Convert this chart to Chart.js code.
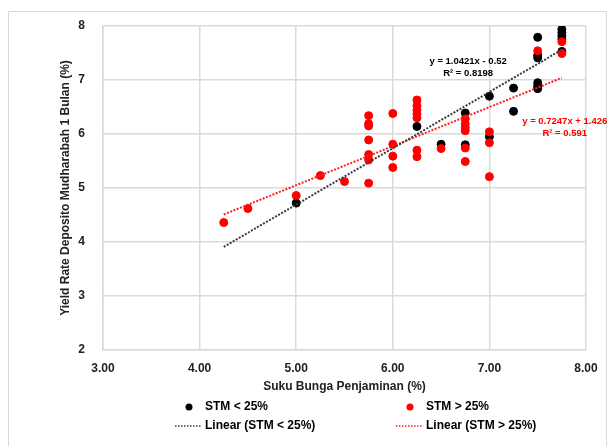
<!DOCTYPE html>
<html>
<head>
<meta charset="utf-8">
<script src="https://cdn.jsdelivr.net/npm/chart.js@4"></script>
<style>
  html, body { margin: 0; padding: 0; background: #fff; }
  #wrap { width: 611px; height: 446px; position: relative; }
</style>
</head>
<body>
<div id="wrap"><canvas id="chart" width="611" height="446"></canvas></div>
<script>
// STM < 25% (black points)
const lowX = [5.0, 6.25, 6.5, 6.75, 6.75, 7.0, 7.0, 7.25, 7.25,
              7.5, 7.5, 7.5, 7.5, 7.5, 7.5, 7.75, 7.75, 7.75, 7.75, 7.75];
const lowY = [4.72, 6.14, 5.81, 6.39, 5.80, 6.70, 5.95, 6.85, 6.42,
              7.79, 7.46, 7.41, 6.95, 6.89, 6.84, 7.94, 7.88, 7.82, 7.76, 7.53];

// STM > 25% (red points)
const highX = [4.25, 4.5, 5.0, 5.25, 5.5,
               5.75, 5.75, 5.75, 5.75, 5.75, 5.75, 5.75,
               6.0, 6.0, 6.0, 6.0,
               6.25, 6.25, 6.25, 6.25, 6.25, 6.25, 6.25,
               6.5,
               6.75, 6.75, 6.75, 6.75, 6.75, 6.75,
               7.0, 7.0, 7.0,
               7.5, 7.75, 7.75];
const highY = [4.36, 4.62, 4.86, 5.23, 5.12,
               6.34, 6.19, 6.15, 5.89, 5.62, 5.52, 5.09,
               6.38, 5.81, 5.59, 5.38,
               6.63, 6.52, 6.44, 6.37, 6.30, 5.70, 5.58,
               5.73,
               6.28, 6.19, 6.12, 6.06, 5.74, 5.49,
               6.04, 5.84, 5.21,
               7.54, 7.71, 7.49];

// trend line end points
const trendX = [4.25, 7.75];
const trendLowY = [3.91, 7.56];
const trendHighY = [4.51, 7.04];

const xTicks = [3, 4, 5, 6, 7, 8];
const yTicks = [2, 3, 4, 5, 6, 7, 8];

const labels = ['STM < 25%', 'STM > 25%', 'Linear (STM < 25%)', 'Linear (STM > 25%)'];
const eqLow = ['y = 1.0421x - 0.52', 'R² = 0.8198'];
const eqHigh = ['y = 0.7247x + 1.426', 'R² = 0.591'];

const FONT = "'Liberation Sans', Arial, sans-serif";
const GRID = '#dadada';

const pts = (xs, ys) => xs.map((x, i) => ({ x, y: ys[i] }));

// frame, equations and legend drawn by hand
const extras = {
    id: 'extras',
    beforeDraw: (chart) => {
        const c = chart.ctx;
        c.save();
        c.fillStyle = '#fff';
        c.fillRect(0, 0, chart.width, chart.height);
        c.strokeStyle = '#d9d9d9';
        c.lineWidth = 1;
        c.beginPath();
        c.moveTo(8.5, 446);
        c.lineTo(8.5, 11.5);
        c.lineTo(606.5, 11.5);
        c.lineTo(606.5, 446);
        c.stroke();
        c.restore();
    },
    afterDraw: (chart) => {
        const c = chart.ctx;
        const xs = chart.scales.x, ys = chart.scales.y;
        const ds = chart.data.datasets;
        c.save();

        // equations
        c.font = 'bold 9.5px ' + FONT;
        c.textAlign = 'center';
        c.textBaseline = 'middle';
        c.fillStyle = '#000';
        let px = xs.getPixelForValue(6.78), py = ys.getPixelForValue(7.34);
        c.fillText(eqLow[0], px, py);
        c.fillText(eqLow[1], px, py + 12);
        c.fillStyle = '#ff0000';
        px = xs.getPixelForValue(7.78); py = ys.getPixelForValue(6.24);
        c.fillText(eqHigh[0], px, py);
        c.fillText(eqHigh[1], px, py + 12);

        // legend
        c.font = 'bold 12px ' + FONT;
        c.textAlign = 'left';
        const items = [
            { ds: ds[0], kind: 'dot', x: 189, y: 407, tx: 205 },
            { ds: ds[1], kind: 'dot', x: 410, y: 407, tx: 426 },
            { ds: ds[2], kind: 'line', x: 175, y: 426, tx: 205 },
            { ds: ds[3], kind: 'line', x: 396, y: 426, tx: 426 }
        ];
        items.forEach(it => {
            if (it.kind === 'dot') {
                c.fillStyle = it.ds.backgroundColor;
                c.beginPath();
                c.arc(it.x, it.y, 3.5, 0, Math.PI * 2);
                c.fill();
            } else {
                c.strokeStyle = it.ds.borderColor;
                c.lineWidth = 1.5;
                c.setLineDash([1.5, 1.5]);
                c.beginPath();
                c.moveTo(it.x, it.y);
                c.lineTo(it.x + 27, it.y);
                c.stroke();
                c.setLineDash([]);
            }
            c.fillStyle = '#000';
            c.fillText(it.ds.label, it.tx, it.y);
        });
        c.restore();
    }
};

new Chart(document.getElementById('chart'), {
    type: 'scatter',
    data: {
        datasets: [
            {
                label: labels[0],
                data: pts(lowX, lowY),
                backgroundColor: '#000',
                borderColor: '#000',
                pointRadius: 4,
                pointHoverRadius: 4,
                order: 2
            },
            {
                label: labels[1],
                data: pts(highX, highY),
                backgroundColor: '#ff0000',
                borderColor: '#ff0000',
                pointRadius: 4,
                pointHoverRadius: 4,
                order: 1
            },
            {
                type: 'line',
                label: labels[2],
                data: pts(trendX, trendLowY),
                borderColor: '#3a3a3a',
                borderWidth: 2,
                borderDash: [2, 1.5],
                pointRadius: 0,
                fill: false,
                order: 0
            },
            {
                type: 'line',
                label: labels[3],
                data: pts(trendX, trendHighY),
                borderColor: '#ff2020',
                borderWidth: 2,
                borderDash: [2, 1.5],
                pointRadius: 0,
                fill: false,
                order: 0
            }
        ]
    },
    options: {
        responsive: false,
        animation: false,
        events: [],
        layout: { padding: { left: 0, top: 26, right: 25, bottom: 0 } },
        plugins: {
            legend: { display: false },
            tooltip: { enabled: false }
        },
        scales: {
            x: {
                type: 'linear',
                min: 3,
                max: 8,
                afterBuildTicks: (s) => { s.ticks = xTicks.map(v => ({ value: v })); },
                afterFit: (s) => { s.height = 96; },
                grid: { color: GRID, lineWidth: 1.5, drawTicks: false },
                border: { color: GRID, width: 1.5 },
                ticks: {
                    padding: 11,
                    color: '#222',
                    font: { family: FONT, size: 12, weight: 'bold' },
                    callback: (v) => Number(v).toFixed(2)
                },
                title: {
                    display: true,
                    text: 'Suku Bunga Penjaminan (%)',
                    color: '#222',
                    font: { family: FONT, size: 12, weight: 'bold' },
                    padding: { top: 0, bottom: 52 }
                }
            },
            y: {
                type: 'linear',
                min: 2,
                max: 8,
                afterBuildTicks: (s) => { s.ticks = yTicks.map(v => ({ value: v })); },
                afterFit: (s) => { s.width = 103; },
                grid: { color: GRID, lineWidth: 1.5, drawTicks: false },
                border: { color: GRID, width: 1.5 },
                ticks: {
                    padding: 18,
                    color: '#222',
                    font: { family: FONT, size: 12, weight: 'bold' }
                },
                title: {
                    display: true,
                    text: 'Yield Rate Deposito Mudharabah 1 Bulan (%)',
                    color: '#222',
                    font: { family: FONT, size: 12, weight: 'bold' },
                    padding: { top: 58, bottom: 0 }
                }
            }
        }
    },
    plugins: [extras]
});
</script>
</body>
</html>
